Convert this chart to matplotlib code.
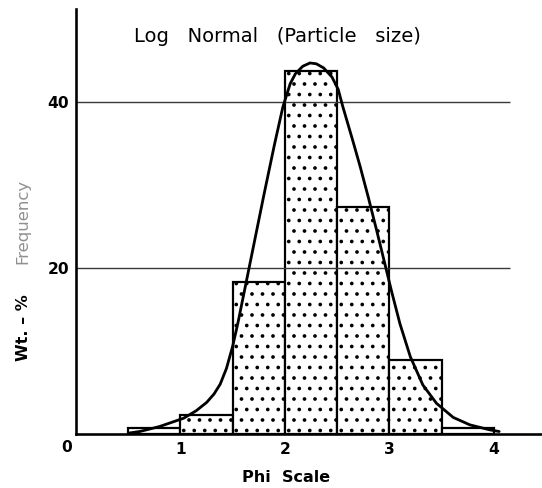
import matplotlib
matplotlib.use('Agg')
import matplotlib.pyplot as plt

# ---- data ----
bin_left = [0.5, 1.0, 1.5, 2.0, 2.5, 3.0, 3.5]
bin_width = 0.5
bar_heights = [0.7, 2.3, 18.3, 43.7, 27.3, 8.9, 0.7]

curve_x = [0.50, 0.61, 0.80, 1.03, 1.15, 1.25, 1.32, 1.38, 1.44, 1.50, 1.55,
           1.60, 1.65, 1.70, 1.80, 1.90, 1.98, 2.05, 2.10, 2.17, 2.24, 2.30,
           2.37, 2.45, 2.51, 2.55, 2.65, 2.72, 2.80, 2.88, 2.96, 3.02, 3.10,
           3.20, 3.32, 3.45, 3.61, 3.77, 3.96, 4.05]
curve_y = [0.1, 0.3, 0.9, 1.9, 2.8, 3.8, 4.8, 6.0, 7.9, 10.6, 13.4,
           16.5, 19.6, 22.7, 28.9, 34.9, 39.4, 42.2, 43.4, 44.3, 44.7, 44.6,
           44.1, 43.0, 41.5, 39.6, 35.3, 32.2, 28.4, 24.4, 20.3, 17.2, 13.3,
           9.3, 5.9, 3.7, 2.0, 1.1, 0.5, 0.3]

x_ticks = [1, 2, 3, 4]
x_tick_labels = ['1', '2', '3', '4']
y_ticks = [20, 40]
y_tick_labels = ['20', '40']
grid_levels = [20, 40]

title = 'Log   Normal   (Particle   size)'
xlabel = 'Phi  Scale'
ylabel_a = 'Wt. – %'
ylabel_b = 'Frequency'

# ---- figure ----
W, H, DPI = 542, 488, 63
PT = 72.0 / DPI  # points per pixel
plt.rcParams['hatch.linewidth'] = 1.8
plt.rcParams['font.family'] = ['DejaVu Sans']

fig = plt.figure(figsize=(W / DPI, H / DPI), dpi=DPI)
fig.patch.set_facecolor('white')

def fx(px):
    return px / W

def fy(py):
    return 1 - py / H

ax = fig.add_axes([fx(76), fy(434), 1 - fx(76), fy(9) - fy(434)])
ax.set_xlim(0, 4.46)
ax.set_ylim(0, 51.2)

for s in ['top', 'right']:
    ax.spines[s].set_visible(False)
for s in ['left', 'bottom']:
    ax.spines[s].set_linewidth(2.6 * PT)
    ax.spines[s].set_color('black')
    ax.spines[s].set_zorder(5)

hatches = ['-', '.', '.', '.', '.', '.', '-']
bars = ax.bar(bin_left, bar_heights, width=bin_width, align='edge',
              facecolor='white', edgecolor='black', linewidth=2.2 * PT, zorder=1)
for b, h in zip(bars, hatches):
    b.set_hatch(h)

ax.hlines(grid_levels, 0, 4.15, color='#3a3a3a', linewidth=1.4 * PT, zorder=2)

ax.plot(curve_x, curve_y, color='black', linewidth=2.8 * PT, zorder=4,
        solid_capstyle='round', solid_joinstyle='round')

ax.set_xticks(x_ticks)
ax.set_xticklabels(x_tick_labels, fontsize=15.5 * PT, fontweight='bold')
ax.set_yticks(y_ticks)
ax.set_yticklabels(y_tick_labels, fontsize=15.5 * PT, fontweight='bold')
ax.tick_params(axis='both', length=0)
ax.tick_params(axis='x', pad=8 * PT)
ax.tick_params(axis='y', pad=7 * PT)

fig.text(fx(67), fy(448), '0', fontsize=15.5 * PT, fontweight='bold',
         ha='center', va='center')

fig.text(fx(277), fy(36), title, fontsize=19.5 * PT, ha='center', va='center')
fig.text(fx(286), fy(478), xlabel, fontsize=16 * PT, fontweight='bold',
         ha='center', va='center')
fig.text(fx(23), fy(328), ylabel_a, fontsize=16 * PT, fontweight='bold',
         rotation=90, ha='center', va='center')
fig.text(fx(23), fy(221), ylabel_b, fontsize=16.5 * PT, color='#909090',
         rotation=90, ha='center', va='center')

fig.savefig('out.png', dpi=DPI, facecolor='white')
